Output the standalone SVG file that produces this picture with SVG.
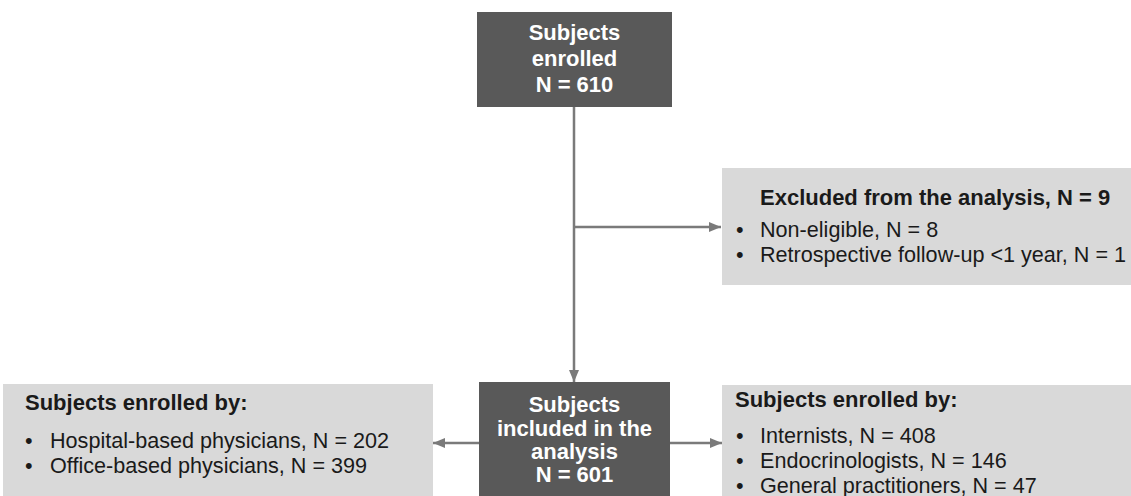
<svg xmlns="http://www.w3.org/2000/svg" width="1131" height="496" viewBox="0 0 1131 496">
<defs>
<marker id="ah" viewBox="0 0 12 10" refX="12" refY="5" markerWidth="12" markerHeight="10" markerUnits="userSpaceOnUse" orient="auto">
<path d="M0,0 L12,5 L0,10 Z" fill="#7a7a7a"/>
</marker>
<style>
.dark{fill:#595959;}
.light{fill:#d9d9d9;}
.wt{font-family:"Liberation Sans",Arial,sans-serif;font-weight:bold;font-size:22px;fill:#ffffff;text-anchor:middle;}
.tt{font-family:"Liberation Sans",Arial,sans-serif;font-weight:bold;font-size:22px;fill:#1a1a1a;}
.it{font-family:"Liberation Sans",Arial,sans-serif;font-size:21.6px;fill:#1a1a1a;}
.ln{stroke:#7a7a7a;stroke-width:2.5;fill:none;}
</style>
</defs>
<rect width="1131" height="496" fill="#ffffff"/>
<g id="connectors">
<line class="ln" x1="574" y1="107" x2="574" y2="382" marker-end="url(#ah)"/>
<line class="ln" x1="574" y1="227" x2="721" y2="227" marker-end="url(#ah)"/>
<line class="ln" x1="479" y1="443" x2="433" y2="443" marker-end="url(#ah)"/>
<line class="ln" x1="670" y1="443" x2="722" y2="443" marker-end="url(#ah)"/>
</g>
<g id="enrolled">
<rect class="dark" x="477" y="12" width="195" height="95"/>
<text class="wt" x="574.5" y="40">Subjects</text>
<text class="wt" x="574.5" y="66">enrolled</text>
<text class="wt" x="574.5" y="92">N = 610</text>
</g>
<g id="excluded">
<rect class="light" x="722" y="168" width="409" height="117"/>
<text class="tt" x="760" y="205">Excluded from the analysis, N = 9</text>
<text class="it" x="736" y="237">•</text>
<text class="it" x="760" y="237">Non-eligible, N = 8</text>
<text class="it" x="736" y="262">•</text>
<text class="it" x="760" y="262">Retrospective follow-up &lt;1 year, N = 1</text>
</g>
<g id="included">
<rect class="dark" x="479" y="382" width="191" height="114"/>
<text class="wt" x="574.5" y="412">Subjects</text>
<text class="wt" x="574.5" y="436">included in the</text>
<text class="wt" x="574.5" y="459">analysis</text>
<text class="wt" x="574.5" y="482">N = 601</text>
</g>
<g id="physicians-type">
<rect class="light" x="3" y="384" width="430" height="112"/>
<text class="tt" x="25" y="410">Subjects enrolled by:</text>
<text class="it" x="25" y="448">•</text>
<text class="it" x="50" y="448">Hospital-based physicians, N = 202</text>
<text class="it" x="25" y="473">•</text>
<text class="it" x="50" y="473">Office-based physicians, N = 399</text>
</g>
<g id="specialty">
<rect class="light" x="722" y="385" width="409" height="111"/>
<text class="tt" x="735" y="407">Subjects enrolled by:</text>
<text class="it" x="736" y="443">•</text>
<text class="it" x="760" y="443">Internists, N = 408</text>
<text class="it" x="736" y="468">•</text>
<text class="it" x="760" y="468">Endocrinologists, N = 146</text>
<text class="it" x="736" y="493">•</text>
<text class="it" x="760" y="493">General practitioners, N = 47</text>
</g>
</svg>
